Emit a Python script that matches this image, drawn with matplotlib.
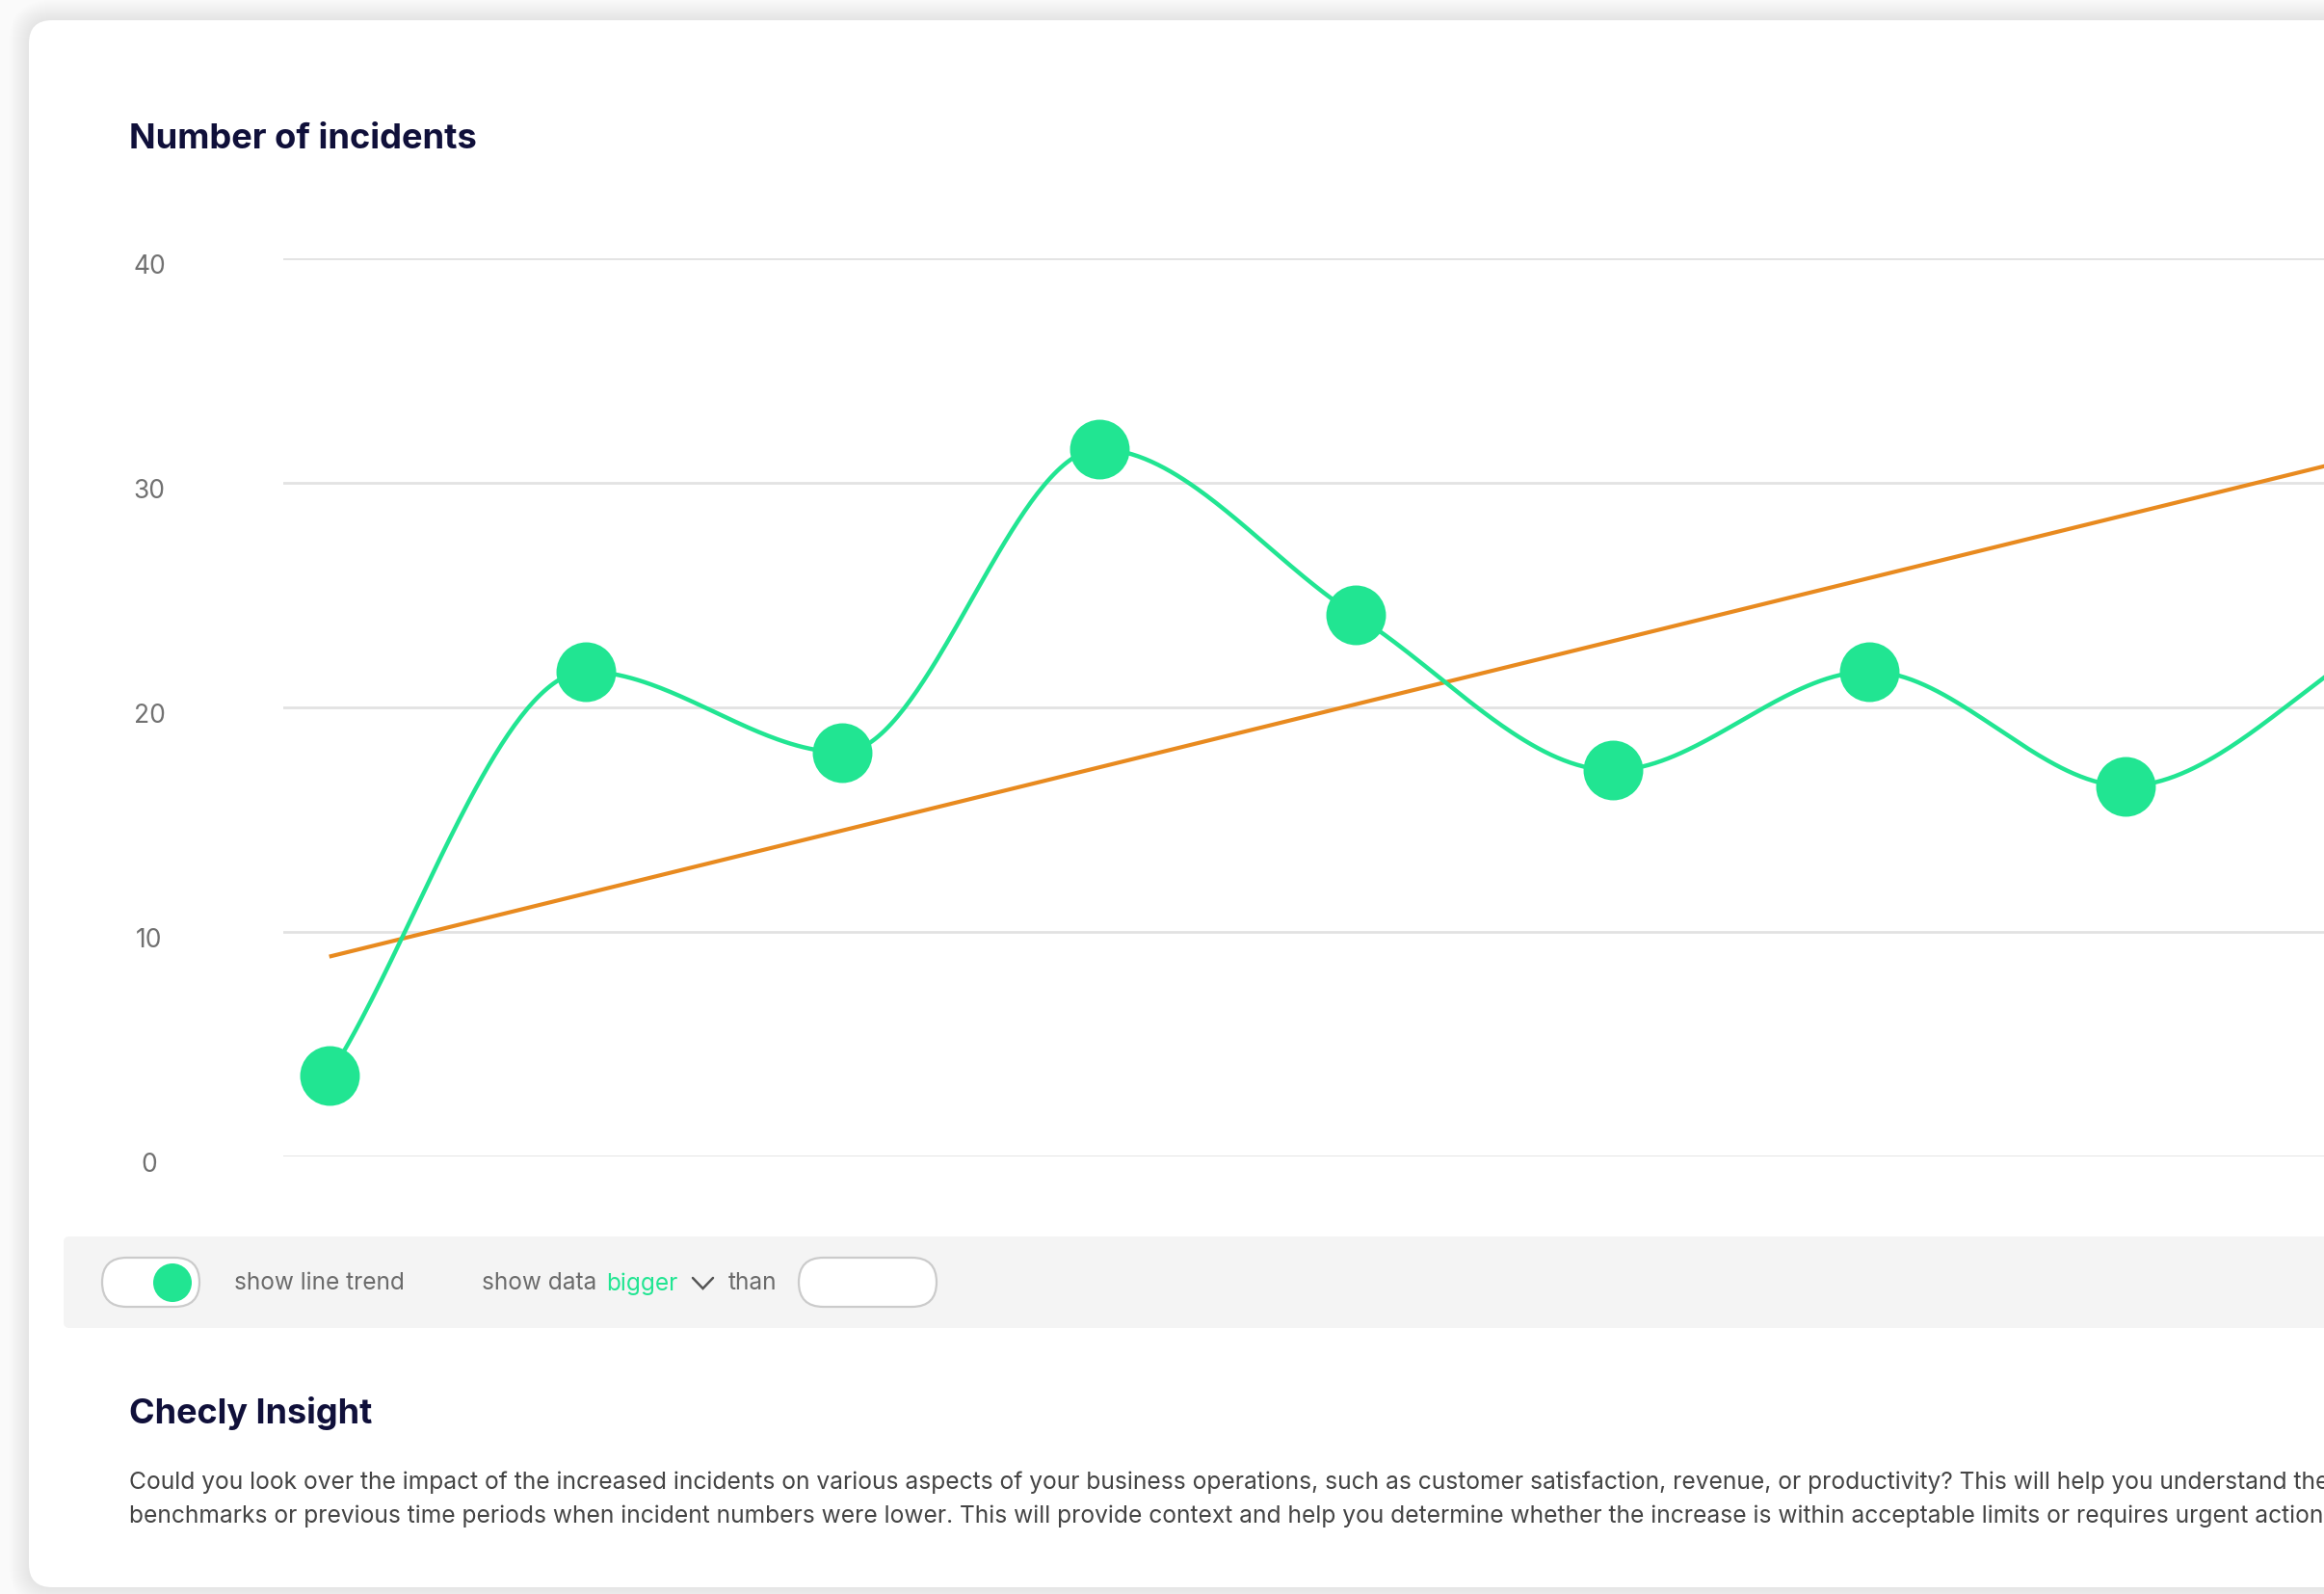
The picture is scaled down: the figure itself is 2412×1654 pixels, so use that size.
import numpy as np
import matplotlib
matplotlib.use("Agg")
import matplotlib.pyplot as plt
from matplotlib.patches import FancyBboxPatch, Circle
import matplotlib.transforms as mtransforms

# ---------------- data ----------------
incidents = [3.6, 21.6, 18.0, 31.5, 24.1, 17.2, 21.6, 16.5, 23.1]
y_ticks = [0, 10, 20, 30, 40]
y_tick_labels = ["0", "10", "20", "30", "40"]
trend_start = 8.9     # trend value at first period
trend_slope = 2.81    # trend increase per period

title = "Number of incidents"
insight_title = "Checly Insight"
insight_line1 = ("Could you look over the impact of the increased incidents on various aspects of your "
                 "business operations, such as customer satisfaction, revenue, or productivity? "
                 "This will help you understand the")
insight_line2 = ("benchmarks or previous time periods when incident numbers were lower. This will provide "
                 "context and help you determine whether the increase is within acceptable limits or "
                 "requires urgent action")

GREEN = "#21E592"
ORANGE = "#E88A1F"
NAVY = "#10103A"
FONT = "Inter"

W, H = 2412, 1654
fig = plt.figure(figsize=(W / 100, H / 100), dpi=100)
fig.patch.set_facecolor("#fafafa")

bg = fig.add_axes([0, 0, 1, 1])
bg.set_xlim(0, W)
bg.set_ylim(H, 0)
bg.axis("off")
bg.set_zorder(0)

# card shadow
for k in range(1, 22):
    bg.add_patch(FancyBboxPatch((30 - k, 21 - k), W + 200, H - 21 - 7 + 2 * k,
                                boxstyle=f"round,pad=0,rounding_size={24 + k}",
                                facecolor="black", edgecolor="none", alpha=0.0045))
# card
bg.add_patch(FancyBboxPatch((30, 21), W + 200, H - 21 - 7,
                            boxstyle="round,pad=0,rounding_size=24",
                            facecolor="white", edgecolor="none"))
# control panel
bg.add_patch(FancyBboxPatch((66, 1283), W + 200, 95,
                            boxstyle="round,pad=0,rounding_size=6",
                            facecolor="#f4f4f4", edgecolor="none"))
# toggle
bg.add_patch(FancyBboxPatch((106, 1305), 101, 51,
                            boxstyle="round,pad=0,rounding_size=25.5",
                            facecolor="white", edgecolor="#cbcbcb", linewidth=1.6))
bg.add_patch(Circle((179, 1331), 20, facecolor=GREEN, edgecolor="none"))
# input box
bg.add_patch(FancyBboxPatch((829, 1305), 143, 51,
                            boxstyle="round,pad=0,rounding_size=25.5",
                            facecolor="white", edgecolor="#cbcbcb", linewidth=1.6))
# chevron
bg.plot([719, 729.5, 740], [1326, 1337, 1326], color="#555555", lw=1.8,
        solid_capstyle="round", solid_joinstyle="miter")

renderer = fig.canvas.get_renderer()


def fit_size(s, width_px, weight="normal", ref=20):
    t = bg.text(0, 0, s, fontsize=ref, family=FONT, weight=weight)
    w = t.get_window_extent(renderer=renderer).width
    t.remove()
    return ref * width_px / w


# headings
ts = fit_size(title, 362, weight="bold")
bg.text(134, 154, title, fontsize=ts, family=FONT, weight="bold", color=NAVY,
        ha="left", va="baseline")
ts2 = fit_size(insight_title, 253, weight="bold")
bg.text(134, 1477, insight_title, fontsize=ts2, family=FONT, weight="bold", color=NAVY,
        ha="left", va="baseline")

# paragraph
ps = fit_size(insight_line1.split("productivity?")[0] + "productivity?", 1892)
bg.text(134, 1545, insight_line1, fontsize=ps, family=FONT, color="#444444",
        ha="left", va="baseline")
bg.text(134, 1580, insight_line2, fontsize=ps, family=FONT, color="#444444",
        ha="left", va="baseline")

# panel texts
cs = fit_size("show line trend", 177)
bg.text(243, 1332, "show line trend", fontsize=cs, family=FONT, color="#6b6b6b",
        ha="left", va="center")
bg.text(500, 1332, "show data", fontsize=cs, family=FONT, color="#6b6b6b",
        ha="left", va="center")
bg.text(629, 1332, "bigger", fontsize=cs, family=FONT, color=GREEN,
        ha="left", va="center")
bg.text(756, 1332, "than", fontsize=cs, family=FONT, color="#6b6b6b",
        ha="left", va="center")

# ---------------- chart ----------------
ax_left, ax_right, ax_top, ax_bottom = 294, W, 268, 1200
x0_px, step_px = 341.7, 266.4
ax = fig.add_axes([ax_left / W, 1 - ax_bottom / H, (ax_right - ax_left) / W,
                   (ax_bottom - ax_top) / H])
ax.set_zorder(1)
ax.patch.set_alpha(0)
ax.set_xlim((ax_left - x0_px) / step_px, (ax_right - x0_px) / step_px)
ax.set_ylim(0, 40)
for sp in ax.spines.values():
    sp.set_visible(False)
ax.set_xticks([])
ax.set_yticks(y_ticks)
ax.tick_params(axis="y", length=0, labelleft=False)
ax.grid(axis="y", color="#e2e2e2", linewidth=2.0)
ax.set_axisbelow(True)

# y labels
tr = mtransforms.blended_transform_factory(bg.transData, ax.transData) + \
    mtransforms.ScaledTranslation(0, -9 / 100, fig.dpi_scale_trans)
for v, lab in zip(y_ticks, y_tick_labels):
    ax.text(155, v, lab, transform=tr, fontsize=19, family=FONT, color="#717171",
            ha="center", va="center", clip_on=False)

# monotone cubic interpolation (Fritsch-Carlson, Chart.js style)
xs = np.arange(len(incidents), dtype=float)
ys = np.array(incidents, dtype=float)
d = np.diff(ys) / np.diff(xs)
m = np.zeros(len(ys))
m[0], m[-1] = d[0], d[-1]
for i in range(1, len(ys) - 1):
    m[i] = 0.0 if np.sign(d[i - 1]) != np.sign(d[i]) else (d[i - 1] + d[i]) / 2
for i in range(len(d)):
    if d[i] == 0:
        m[i] = m[i + 1] = 0
        continue
    a, b = m[i] / d[i], m[i + 1] / d[i]
    s = a * a + b * b
    if s > 9:
        tau = 3 / np.sqrt(s)
        m[i], m[i + 1] = tau * a * d[i], tau * b * d[i]
cx, cy = [], []
t = np.linspace(0, 1, 80)
for i in range(len(d)):
    h = xs[i + 1] - xs[i]
    h00 = 2 * t**3 - 3 * t**2 + 1
    h10 = t**3 - 2 * t**2 + t
    h01 = -2 * t**3 + 3 * t**2
    h11 = t**3 - t**2
    cx.append(xs[i] + t * h)
    cy.append(h00 * ys[i] + h10 * h * m[i] + h01 * ys[i + 1] + h11 * h * m[i + 1])
cx = np.concatenate(cx)
cy = np.concatenate(cy)

trend_x = np.array([xs[0], xs[-1]])
trend_y = trend_start + trend_slope * trend_x
ax.plot(trend_x, trend_y, color=ORANGE, lw=3.0, solid_capstyle="butt", zorder=2)
ax.plot(cx, cy, color=GREEN, lw=3.2, zorder=3)
ax.plot(xs, ys, linestyle="none", marker="o", markersize=44.6, markeredgewidth=0,
        color=GREEN, zorder=4, clip_on=True)

fig.savefig("out.png", dpi=100, facecolor=fig.get_facecolor())
